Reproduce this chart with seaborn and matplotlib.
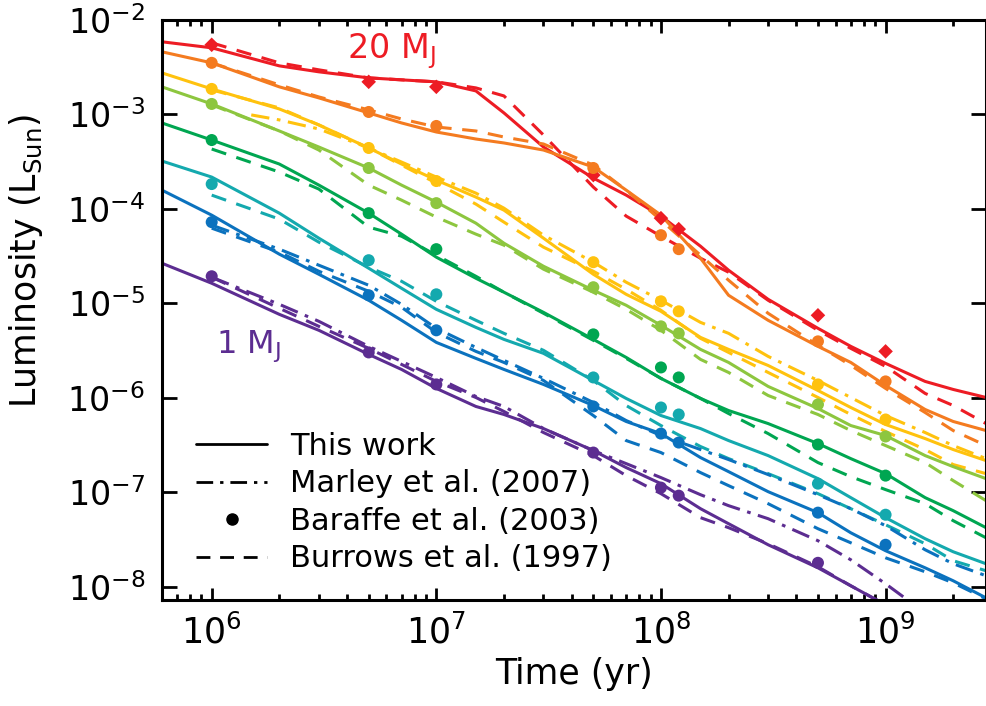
import numpy as np
import pandas as pd
import matplotlib
matplotlib.use("Agg")
import matplotlib.pyplot as plt
import seaborn as sns
from matplotlib.lines import Line2D
from matplotlib.ticker import FixedLocator, NullLocator, LogFormatterSciNotation

# ---------------- data (log10 L/Lsun vs age in yr) ----------------
T_GRID = [6e5, 1e6, 2e6, 3e6, 5e6, 7e6, 1e7, 1.5e7, 2e7, 3e7, 5e7, 7e7,
          1e8, 1.5e8, 2e8, 3e8, 5e8, 7e8, 1e9, 1.5e9, 2e9, 2.8e9]
T_BARAFFE = [1e6, 5e6, 1e7, 5e7, 1e8, 1.2e8, 5e8, 1e9]

masses = ["20", "15", "13", "10", "7", "5", "2", "1"]
colors = ["#ED1C24", "#F47B20", "#FFC20E", "#8DC63F",
          "#00A651", "#14A9AE", "#0B72BE", "#5C2D91"]

# "This work" (solid), starts at 6e5 yr
this_work = {
    "20": [-2.233, -2.297, -2.488, -2.551, -2.615, -2.636, -2.657, -2.753, -2.986, -3.347, -3.676,
           -3.856, -4.078, -4.397, -4.651, -4.959, -5.266, -5.457, -5.637, -5.828, -5.913, -5.998],
    "15": [-2.339, -2.456, -2.710, -2.827, -2.986, -3.092, -3.188, -3.262, -3.304, -3.379, -3.559,
           -3.803, -4.068, -4.524, -4.916, -5.181, -5.457, -5.627, -5.871, -6.125, -6.252, -6.348],
    "13": [-2.562, -2.732, -2.944, -3.113, -3.357, -3.527, -3.697, -3.877, -4.015, -4.312, -4.694,
           -4.906, -5.086, -5.362, -5.489, -5.659, -5.924, -6.104, -6.284, -6.433, -6.549, -6.666],
    "10": [-2.710, -2.891, -3.177, -3.347, -3.569, -3.750, -3.930, -4.153, -4.365, -4.609, -4.863,
           -5.022, -5.234, -5.489, -5.627, -5.881, -6.115, -6.295, -6.401, -6.613, -6.730, -6.857],
    "7":  [-3.092, -3.273, -3.527, -3.750, -4.047, -4.269, -4.513, -4.736, -4.884, -5.097, -5.383,
           -5.574, -5.796, -6.008, -6.136, -6.274, -6.486, -6.645, -6.804, -7.058, -7.196, -7.376],
    "5":  [-3.495, -3.665, -4.047, -4.312, -4.630, -4.842, -5.065, -5.256, -5.383, -5.531, -5.818,
           -6.008, -6.189, -6.327, -6.454, -6.613, -6.857, -7.058, -7.270, -7.493, -7.631, -7.758],
    "2":  [-3.803, -4.068, -4.481, -4.694, -4.969, -5.181, -5.415, -5.584, -5.701, -5.860, -6.083,
           -6.252, -6.380, -6.634, -6.783, -6.995, -7.217, -7.430, -7.620, -7.801, -7.938, -8.119],
    "1":  [-4.577, -4.789, -5.118, -5.287, -5.542, -5.701, -5.902, -6.093, -6.178, -6.327, -6.560,
           -6.740, -6.910, -7.175, -7.334, -7.557, -7.801, -7.991, -8.193, -8.448],
}

# Burrows et al. (1997) (dashed), starts at 1e6 yr
burrows = {
    "20": [-2.244, -2.456, -2.530, -2.615, -2.636, -2.657, -2.721, -2.806, -3.220, -3.771, -4.078,
           -4.291, -4.524, -4.672, -4.969, -5.287, -5.478, -5.669, -5.955, -6.083, -6.274],
    "15": [-2.456, -2.689, -2.817, -2.954, -3.050, -3.135, -3.177, -3.241, -3.315, -3.538, -3.803,
           -4.121, -4.492, -4.757, -5.107, -5.446, -5.658, -5.902, -6.157, -6.348, -6.507],
    "13": [-2.742, -2.933, -3.113, -3.357, -3.538, -3.729, -3.951, -4.142, -4.407, -4.662, -4.853,
           -5.075, -5.372, -5.521, -5.733, -5.998, -6.178, -6.358, -6.549, -6.708, -6.804],
    "10": [-2.901, -3.177, -3.379, -3.750, -3.909, -4.089, -4.269, -4.386, -4.640, -4.884, -5.065,
           -5.287, -5.595, -5.733, -5.977, -6.178, -6.348, -6.507, -6.687, -6.878, -7.090],
    "7":  [-3.368, -3.612, -3.792, -4.195, -4.291, -4.492, -4.715, -4.884, -5.107, -5.393, -5.584,
           -5.796, -6.008, -6.168, -6.380, -6.687, -6.836, -6.973, -7.122, -7.302, -7.483],
    "5":  [-3.856, -4.110, -4.354, -4.619, -4.768, -4.980, -5.181, -5.319, -5.499, -5.818, -6.083,
           -6.295, -6.517, -6.645, -6.804, -7.016, -7.175, -7.345, -7.546, -7.726, -7.832],
    "2":  [-4.206, -4.460, -4.662, -4.874, -5.043, -5.309, -5.510, -5.627, -5.818, -6.189, -6.454,
           -6.581, -6.793, -6.931, -7.122, -7.387, -7.536, -7.695, -7.843, -7.960, -8.129],
    "1":  [-4.725, -5.054, -5.245, -5.478, -5.648, -5.828, -5.998, -6.146, -6.369, -6.613, -6.825,
           -7.016, -7.270, -7.376, -7.546, -7.790, -7.991, -8.193, -8.448],
}

# Marley et al. (2007) (dash-dot)
T_MARLEY_13 = [1.5e6] + T_GRID[2:]
marley = {
    "13": [-3.007, -3.060, -3.156, -3.357, -3.506, -3.665, -3.835, -3.994, -4.280, -4.566, -4.778,
           -4.969, -5.203, -5.319, -5.563, -5.818, -5.998, -6.189, -6.369, -6.507, -6.645],
    "2":  [-4.174, -4.428, -4.598, -4.810, -5.012, -5.266, -5.468, -5.605, -5.796, -6.051, -6.242,
           -6.401, -6.549, -6.655, -6.814, -7.027, -7.175, -7.355, -7.610, -7.758, -7.885],
    "1":  [-4.725, -5.012, -5.192, -5.457, -5.616, -5.786, -5.987, -6.093, -6.327, -6.560, -6.698,
           -6.846, -7.027, -7.143, -7.281, -7.514, -7.716, -7.970, -8.278],
}

# Baraffe et al. (2003) (points; diamonds for 20 MJ)
baraffe = {
    "20": [-2.265, -2.657, -2.710, -3.644, -4.100, -4.216, -5.128, -5.510],
    "15": [-2.456, -2.976, -3.124, -3.569, -4.280, -4.428, -5.404, -5.828],
    "13": [-2.732, -3.357, -3.707, -4.566, -4.980, -5.086, -5.860, -6.231],
    "10": [-2.891, -3.569, -3.941, -4.831, -5.245, -5.319, -6.072, -6.411],
    "7":  [-3.273, -4.047, -4.428, -5.330, -5.680, -5.786, -6.496, -6.825],
    "5":  [-3.739, -4.545, -4.906, -5.786, -6.104, -6.178, -6.910, -7.239],
    "2":  [-4.142, -4.916, -5.287, -6.093, -6.380, -6.475, -7.217, -7.557],
    "1":  [-4.715, -5.521, -5.860, -6.581, -6.952, -7.037, -7.748],
}

X_TICKS = [1e6, 1e7, 1e8, 1e9]
Y_TICKS = [1e-8, 1e-7, 1e-6, 1e-5, 1e-4, 1e-3, 1e-2]

# ---------------- figure ----------------
sns.set_style("ticks")
plt.rcParams["font.family"] = ["DejaVu Sans"]
plt.rcParams["mathtext.default"] = "regular"
plt.rcParams["text.color"] = "black"
plt.rcParams["axes.labelcolor"] = "black"
plt.rcParams["xtick.color"] = "black"
plt.rcParams["ytick.color"] = "black"
plt.rcParams["axes.edgecolor"] = "black"

fig = plt.figure(figsize=(9.87, 7.06), dpi=100)
ax = fig.add_axes([0.164, 0.150, 0.835, 0.822])
ax.set_xscale("log")
ax.set_yscale("log")

LW = 2.2
dash_style = (0, (5, 3.5))
dashdot_style = (0, (6, 2.5, 1.2, 2.5))

for m, c in zip(masses, colors):
    yb = burrows[m]
    sns.lineplot(x=T_GRID[1:1 + len(yb)], y=np.power(10.0, yb), color=c, lw=LW,
                 linestyle=dash_style, estimator=None, sort=False, ax=ax)
    if m in marley:
        ym = marley[m]
        tm = T_MARLEY_13 if m == "13" else T_GRID[1:1 + len(ym)]
        sns.lineplot(x=tm, y=np.power(10.0, ym), color=c, lw=LW,
                     linestyle=dashdot_style, estimator=None, sort=False, ax=ax)
    ys = this_work[m]
    sns.lineplot(x=T_GRID[:len(ys)], y=np.power(10.0, ys), color=c, lw=LW,
                 estimator=None, sort=False, ax=ax)
    yp = baraffe[m]
    sns.scatterplot(x=T_BARAFFE[:len(yp)], y=np.power(10.0, yp), color=c,
                    marker="D" if m == "20" else "o",
                    s=55 if m == "20" else 75, edgecolor="none", zorder=5, ax=ax)

ax.set_xlim(6.0e5, 2.8e9)
ax.set_ylim(7.2e-9, 1e-2)

ax.xaxis.set_major_locator(FixedLocator(X_TICKS))
ax.xaxis.set_major_formatter(LogFormatterSciNotation())
ax.xaxis.set_minor_locator(FixedLocator(
    [k * 10.0 ** e for e in range(5, 10) for k in range(2, 10)]))
ax.yaxis.set_major_locator(FixedLocator(Y_TICKS))
ax.yaxis.set_major_formatter(LogFormatterSciNotation())
ax.yaxis.set_minor_locator(NullLocator())
ax.tick_params(axis="both", which="both", direction="in", top=True, right=True,
               width=2, colors="black")
ax.tick_params(axis="x", which="major", length=9, pad=10, labelsize=25)
ax.tick_params(axis="x", which="minor", length=4)
ax.tick_params(axis="y", which="major", length=11, pad=12, labelsize=24)
for sp in ax.spines.values():
    sp.set_linewidth(2.2)
    sp.set_visible(True)
    sp.set_color("black")

ax.set_xlabel("Time (yr)", fontsize=25, labelpad=5)
ax.set_ylabel(r"Luminosity (L$_{Sun}$)", fontsize=25)
ax.yaxis.set_label_coords(-0.142, 0.585)

ax.text(4.0e6, 10 ** -2.403, r"20 M$_J$", color=colors[0], fontsize=24,
        ha="left", va="baseline")
ax.text(1.04e6, 10 ** -5.521, r"1 M$_J$", color=colors[-1], fontsize=23,
        ha="left", va="baseline")

handles = [
    Line2D([], [], color="black", lw=2, linestyle="-"),
    Line2D([], [], color="black", lw=2, linestyle=dashdot_style),
    Line2D([], [], color="black", lw=0, marker="o", markersize=8),
    Line2D([], [], color="black", lw=2, linestyle=dash_style),
]
labels = ["This work", "Marley et al. (2007)", "Baraffe et al. (2003)", "Burrows et al. (1997)"]
ax.legend(handles, labels, loc="upper left", bbox_to_anchor=(0.042, 0.29),
          frameon=False, fontsize=22, handlelength=2.3, handletextpad=0.75,
          labelspacing=0.28, borderpad=0, borderaxespad=0)

fig.savefig("out.png", dpi=100)
